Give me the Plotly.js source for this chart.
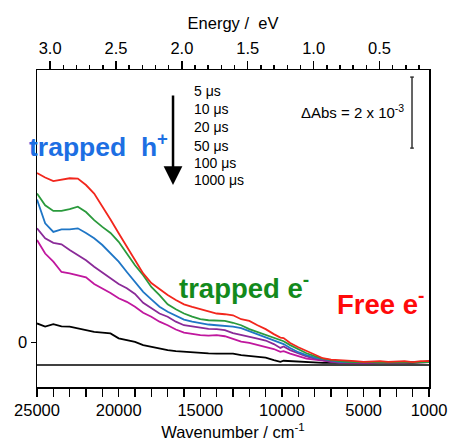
<!DOCTYPE html>
<html>
<head>
<meta charset="utf-8">
<script src="https://cdn.plot.ly/plotly-3.0.1.min.js"></script>
<style>html,body{margin:0;padding:0;background:#fff;}#chart{width:451px;height:442px;}</style>
</head>
<body>
<div id="chart"></div>
<script>
// Wavenumber grid (cm^-1)
const wavenumber = [25000,24500,24000,23500,23000,22500,22000,21500,21000,20500,
  20000,19500,19000,18500,18000,17500,17000,16500,16000,15500,
  15000,14500,14000,13500,13000,12500,12000,11500,11000,10500,
  10100,9900,9500,9000,8500,8000,7500,7000,6500,6000,
  5500,5000,4500,4000,3500,3000,2500,2000,1500,1000];

// ΔAbs in units of 10^-3
const abs5us = [4.78,4.65,4.55,4.58,4.63,4.62,4.44,4.20,3.85,3.47, 3.08,2.70,2.30,1.95,1.68,1.50,1.34,1.20,1.08,1.01,
  0.94,0.87,0.82,0.80,0.77,0.66,0.61,0.49,0.38,0.24, 0.14,0.13,-0.01,-0.13,-0.24,-0.35,-0.44,-0.48,-0.49,-0.49,
  -0.52,-0.54,-0.52,-0.52,-0.54,-0.54,-0.52,-0.55,-0.52,-0.52];
const abs10us = [4.20,3.87,3.71,3.71,3.76,3.83,3.68,3.45,3.26,3.09, 2.84,2.51,2.18,1.90,1.57,1.34,1.08,0.94,0.82,0.73,
  0.66,0.63,0.63,0.61,0.56,0.49,0.38,0.30,0.21,0.13, 0.07,0.04,-0.07,-0.18,-0.30,-0.38,-0.45,-0.49,-0.52,-0.54,
  -0.55,-0.54,-0.55,-0.56,-0.55,-0.54,-0.55,-0.56,-0.55,-0.55];
const abs20us = [4.03,3.36,3.12,3.19,3.19,3.22,3.09,2.94,2.75,2.51, 2.28,1.99,1.71,1.43,1.22,1.01,0.87,0.75,0.65,0.59,
  0.54,0.51,0.49,0.48,0.45,0.41,0.32,0.24,0.15,0.07, -0.01,-0.04,-0.15,-0.27,-0.35,-0.42,-0.46,-0.51,-0.54,-0.55,
  -0.55,-0.56,-0.55,-0.55,-0.56,-0.55,-0.54,-0.55,-0.56,-0.55];
const abs50us = [3.22,2.94,2.81,2.77,2.61,2.46,2.32,2.14,1.97,1.81, 1.65,1.53,1.37,1.12,0.96,0.82,0.73,0.59,0.49,0.45,
  0.42,0.39,0.38,0.35,0.27,0.21,0.15,0.11,0.06,-0.04, -0.15,-0.11,-0.21,-0.31,-0.39,-0.45,-0.49,-0.54,-0.55,-0.56,
  -0.56,-0.57,-0.56,-0.56,-0.57,-0.56,-0.56,-0.57,-0.56,-0.55];
const abs100us = [2.89,2.51,2.28,1.99,1.95,1.90,1.84,1.65,1.53,1.40, 1.25,1.15,1.01,0.84,0.73,0.59,0.49,0.37,0.28,0.24,
  0.21,0.20,0.21,0.18,0.10,0.03,-0.01,-0.07,-0.13,-0.18, -0.26,-0.24,-0.31,-0.39,-0.45,-0.48,-0.51,-0.54,-0.56,-0.56,
  -0.57,-0.56,-0.56,-0.57,-0.56,-0.56,-0.57,-0.56,-0.56,-0.55];
const abs1000us = [0.54,0.45,0.52,0.46,0.45,0.40,0.35,0.30,0.28,0.26, 0.12,0.07,0.02,-0.07,-0.12,-0.16,-0.21,-0.24,-0.26,-0.27,
  -0.30,-0.30,-0.31,-0.32,-0.31,-0.35,-0.38,-0.41,-0.42,-0.49, -0.54,-0.51,-0.52,-0.54,-0.56,-0.56,-0.57,-0.56,-0.57,-0.58,
  -0.57,-0.56,-0.57,-0.58,-0.57,-0.56,-0.57,-0.58,-0.55,-0.52];

const seriesNames = ['5 \u03bcs','10 \u03bcs','20 \u03bcs','50 \u03bcs','100 \u03bcs','1000 \u03bcs'];
const seriesValues = [abs5us, abs10us, abs20us, abs50us, abs100us, abs1000us];
const seriesColors = ['#f2261c','#2a9a3c','#1f76c6','#8a2a98','#c0179e','#000000'];

const xTickVals = [25000,20000,15000,10000,5000,1000];
const xTickLabels = ['25000','20000','15000','10000','5000','1000'];
const yTickVals = [0];
const yTickLabels = ['0'];
const xRange = [25000, 1000];
const yRange = [-1.25, 7.68];
const cmPerEV = 8065.54;
const baselineValue = -0.63;
const scaleBarValue = 2;      // ΔAbs = 2 x 10^-3
const scaleBarBottom = 5.48;
const scaleBarX = 2040;

const FONT = 'Liberation Sans, Arial, Helvetica, sans-serif';

const traces = [];
for (let i = seriesValues.length - 1; i >= 0; i--) {
  traces.push({
    x: wavenumber, y: seriesValues[i], type: 'scatter', mode: 'lines',
    name: seriesNames[i], line: {color: seriesColors[i], width: 1.8},
    showlegend: false, hoverinfo: 'skip'
  });
}
// invisible trace to carry the energy axis
traces.push({x: xRange.map(v => v / cmPerEV), y: [null, null], xaxis: 'x2', yaxis: 'y',
  mode: 'lines', showlegend: false, hoverinfo: 'skip', line: {width: 0}});

const annotations = [];
const rowY = [0.935, 0.876, 0.819, 0.760, 0.706, 0.653];
seriesNames.forEach((n, i) => annotations.push({
  xref: 'paper', yref: 'paper', x: 0.395, y: rowY[i], xanchor: 'left', yanchor: 'middle',
  text: n, showarrow: false, font: {family: FONT, size: 14, color: '#000'}
}));
annotations.push({xref: 'paper', yref: 'paper', x: 0.347, y: 0.637, ax: 0, ay: -100,
  axref: 'pixel', ayref: 'pixel', showarrow: true, arrowhead: 2, arrowsize: 1.5, arrowwidth: 2.5,
  arrowcolor: '#000', text: ' '});
annotations.push({xref: 'paper', yref: 'paper', x: -0.026, y: 0.763, xanchor: 'left', yanchor: 'middle',
  text: '<b>trapped\u00a0\u00a0h<sup>+</sup></b>', showarrow: false, font: {family: FONT, size: 26.5, color: '#1d6fe3'}});
annotations.push({xref: 'paper', yref: 'paper', x: 0.358, y: 0.318, xanchor: 'left', yanchor: 'middle',
  text: '<b>trapped e<sup>-</sup></b>', showarrow: false, font: {family: FONT, size: 27.5, color: '#138a1c'}});
annotations.push({xref: 'paper', yref: 'paper', x: 0.760, y: 0.268, xanchor: 'left', yanchor: 'middle',
  text: '<b>Free e<sup>-</sup></b>', showarrow: false, font: {family: FONT, size: 27.5, color: '#ff0a0a'}});
annotations.push({xref: 'paper', yref: 'paper', x: 0.668, y: 0.868, xanchor: 'left', yanchor: 'middle',
  text: '\u0394Abs = 2 x 10<sup>-3</sup>', showarrow: false, font: {family: FONT, size: 15, color: '#000'}});

const capHalf = 110;
const shapes = [
  {type: 'line', xref: 'paper', yref: 'y', x0: 0, x1: 1, y0: baselineValue, y1: baselineValue,
   line: {color: '#000', width: 1.7}},
  {type: 'line', xref: 'x', yref: 'y', x0: scaleBarX, x1: scaleBarX, y0: scaleBarBottom, y1: scaleBarBottom + scaleBarValue,
   line: {color: '#333', width: 1.5}},
  {type: 'line', xref: 'x', yref: 'y', x0: scaleBarX - capHalf, x1: scaleBarX + capHalf, y0: scaleBarBottom, y1: scaleBarBottom,
   line: {color: '#333', width: 1.5}},
  {type: 'line', xref: 'x', yref: 'y', x0: scaleBarX - capHalf, x1: scaleBarX + capHalf, y0: scaleBarBottom + scaleBarValue, y1: scaleBarBottom + scaleBarValue,
   line: {color: '#333', width: 1.5}}
];

const layout = {
  width: 451, height: 442,
  margin: {l: 37, r: 22, t: 70, b: 55, pad: 0},
  paper_bgcolor: '#fff', plot_bgcolor: '#fff',
  font: {family: FONT, size: 16.5, color: '#000'},
  showlegend: false,
  xaxis: {
    range: xRange, tickmode: 'array', tickvals: xTickVals, ticktext: xTickLabels,
    ticks: 'outside', ticklen: 8, tickwidth: 1.5, tickcolor: '#000',
    minor: {dtick: 1000, tick0: 0, ticks: 'outside', ticklen: 8, tickwidth: 1.5, tickcolor: '#000'},
    showline: true, linecolor: '#000', linewidth: 1.5, showgrid: false, zeroline: false,
    tickfont: {family: FONT, size: 16.5},
    title: {text: 'Wavenumber / cm<sup>-1</sup>', font: {family: FONT, size: 16.5}, standoff: 8},
    automargin: false
  },
  xaxis2: {
    overlaying: 'x', side: 'top', anchor: 'y',
    range: xRange.map(v => v / cmPerEV), tickmode: 'linear', tick0: 0, dtick: 0.5, tickformat: '.1f',
    ticks: 'outside', ticklen: 8, tickwidth: 1.5, tickcolor: '#000',
    minor: {dtick: 0.1, tick0: 0, ticks: 'outside', ticklen: 4, tickwidth: 1.5, tickcolor: '#000'},
    showline: true, linecolor: '#000', linewidth: 1.5, showgrid: false, zeroline: false,
    tickfont: {family: FONT, size: 16.5},
    title: {text: 'Energy /\u00a0\u00a0eV', font: {family: FONT, size: 16.5}, standoff: 5},
    automargin: false
  },
  yaxis: {
    range: yRange, tickmode: 'array', tickvals: yTickVals, ticktext: yTickLabels,
    ticks: 'outside', ticklen: 5, tickwidth: 1.5, tickcolor: '#000',
    showline: true, mirror: true, linecolor: '#000', linewidth: 1.5, showgrid: false, zeroline: false,
    tickfont: {family: FONT, size: 16.5}, automargin: false
  },
  annotations: annotations,
  shapes: shapes
};

Plotly.newPlot('chart', traces, layout, {staticPlot: true, displayModeBar: false});
</script>
</body>
</html>
